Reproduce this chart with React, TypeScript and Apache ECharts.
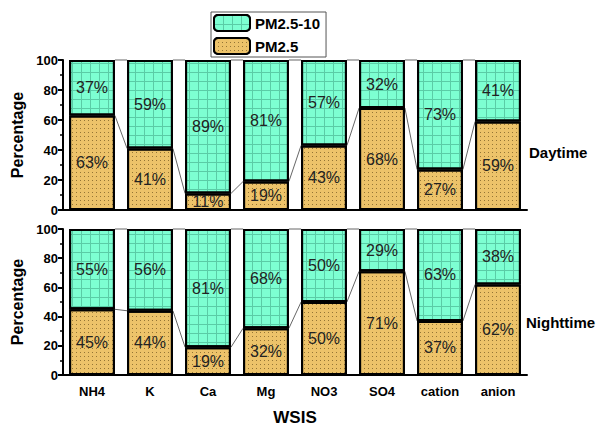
import React, { useEffect, useRef } from "react";
import * as echarts from "echarts";

const categories = ["NH4", "K", "Ca", "Mg", "NO3", "SO4", "cation", "anion"];
const dayFine = [63, 41, 11, 19, 43, 68, 27, 59];
const dayCoarse = [37, 59, 89, 81, 57, 32, 73, 41];
const nightFine = [45, 44, 19, 32, 50, 71, 37, 62];
const nightCoarse = [55, 56, 81, 68, 50, 29, 63, 38];
const yTicks = [0, 20, 40, 60, 80, 100];

const BAR_RATIO = 0.79;
const FINE_COLOR = "#EDC36A";
const COARSE_COLOR = "#7DFFD2";

const fineDecal = {
  symbol: "rect",
  symbolSize: 1,
  color: "rgba(60,40,0,0.5)",
  dashArrayX: [1, 3],
  dashArrayY: [1, 3],
  rotation: 0,
};
const coarseDecal = {
  symbol: "rect",
  symbolSize: 1,
  color: "rgba(0,70,50,0.28)",
  dashArrayX: [[9, 0], [1, 8]],
  dashArrayY: [1, 0, 8, 0],
  rotation: 0,
};

function pairs(vals: number[]) {
  const out: number[][] = [];
  for (let i = 0; i < vals.length - 1; i++) out.push([i, vals[i], vals[i + 1]]);
  return out;
}

function connector(xi: number, yi: number, data: number[][]) {
  return {
    type: "custom",
    xAxisIndex: xi,
    yAxisIndex: yi,
    z: 1,
    silent: true,
    data,
    renderItem: (params: any, api: any) => {
      const i = api.value(0);
      const p1 = api.coord([i, api.value(1)]);
      const p2 = api.coord([i + 1, api.value(2)]);
      const hw = (api.size([1, 0])[0] * BAR_RATIO) / 2;
      return {
        type: "line",
        shape: { x1: p1[0] + hw, y1: p1[1], x2: p2[0] - hw, y2: p2[1] },
        style: { stroke: "#666", lineWidth: 1 },
      };
    },
  };
}

export default function App() {
  const ref = useRef<HTMLDivElement>(null);
  useEffect(() => {
    const chart = echarts.init(ref.current!, null, { renderer: "svg" });
    const sum = (a: number[], b: number[]) => a.map((v, i) => v + b[i]);
    const grids = [
      { left: 63, width: 464, top: 60, height: 150 },
      { left: 63, width: 464, top: 229, height: 150 },
    ];
    const xAxes: any[] = [];
    const yAxes: any[] = [];
    grids.forEach((g, gi) => {
      xAxes.push({
        type: "category",
        gridIndex: gi,
        data: categories,
        boundaryGap: true,
        axisLine: { lineStyle: { color: "#000", width: 2 } },
        axisTick: { alignWithLabel: true, length: 6, lineStyle: { color: "#000", width: 2 } },
        axisLabel: {
          show: gi === 1,
          color: "#000",
          fontWeight: "bold",
          fontSize: 13,
          fontFamily: "Liberation Sans, Arial",
          margin: 10,
        },
        name: gi === 1 ? "WSIS" : "",
        nameLocation: "middle",
        nameGap: 34,
        nameTextStyle: { color: "#000", fontWeight: "bold", fontSize: 17, fontFamily: "Liberation Sans, Arial" },
      });
      xAxes.push({
        type: "category",
        gridIndex: gi,
        data: categories,
        position: "bottom",
        boundaryGap: true,
        axisLine: { show: false },
        axisTick: { length: 3, lineStyle: { color: "#000", width: 2 } },
        axisLabel: { show: false },
      });
      yAxes.push({
        type: "value",
        gridIndex: gi,
        min: 0,
        max: 100,
        interval: 20,
        splitLine: { show: false },
        axisLine: { show: true, lineStyle: { color: "#000", width: 2 } },
        axisTick: { show: true, length: 5, lineStyle: { color: "#000", width: 2 } },
        minorTick: { show: true, splitNumber: 2, length: 3, lineStyle: { color: "#000", width: 1.5 } },
        axisLabel: {
          color: "#000",
          fontWeight: "bold",
          fontSize: 13,
          fontFamily: "Liberation Sans, Arial",
          margin: 5,
          formatter: (v: number) => (yTicks.includes(v) ? String(v) : ""),
        },
        name: "Percentage",
        nameLocation: "middle",
        nameRotate: 90,
        nameGap: 35,
        nameTextStyle: { color: "#000", fontWeight: "bold", fontSize: 16, fontFamily: "Liberation Sans, Arial" },
      });
    });

    const label = {
      show: true,
      position: "inside",
      formatter: "{c}%",
      color: "#222",
      fontSize: 16,
      fontFamily: "Liberation Sans, Arial",
    };
    const bar = (name: string, gi: number, data: number[], color: string, decal: any, stack: string) => ({
      name,
      type: "bar",
      xAxisIndex: gi * 2,
      yAxisIndex: gi,
      stack,
      data,
      barWidth: BAR_RATIO * 100 + "%",
      z: 2,
      itemStyle: { color, borderColor: "#000", borderWidth: 2, decal },
      label,
    });

    chart.setOption({
      animation: false,
      aria: { enabled: true, decal: { show: true } },
      legend: {
        orient: "vertical",
        left: 211,
        top: 12,
        data: ["PM2.5-10", "PM2.5"],
        borderColor: "#555",
        borderWidth: 1,
        borderRadius: 0,
        padding: [2, 6, 2, 2],
        itemWidth: 36,
        itemHeight: 16,
        itemGap: 5,
        textStyle: { color: "#000", fontWeight: "bold", fontSize: 15, fontFamily: "Liberation Sans, Arial" },
      },
      grid: grids,
      xAxis: xAxes,
      yAxis: yAxes,
      series: [
        bar("PM2.5", 0, dayFine, FINE_COLOR, fineDecal, "day"),
        bar("PM2.5-10", 0, dayCoarse, COARSE_COLOR, coarseDecal, "day"),
        bar("PM2.5", 1, nightFine, FINE_COLOR, fineDecal, "night"),
        bar("PM2.5-10", 1, nightCoarse, COARSE_COLOR, coarseDecal, "night"),
        connector(0, 0, pairs(dayFine)),
        connector(0, 0, pairs(sum(dayFine, dayCoarse))),
        connector(2, 1, pairs(nightFine)),
        connector(2, 1, pairs(sum(nightFine, nightCoarse))),
      ],
      graphic: [
        {
          type: "text",
          left: 529,
          top: 145,
          style: { text: "Daytime", fill: "#000", font: "bold 15px 'Liberation Sans', Arial" },
        },
        {
          type: "text",
          left: 526,
          top: 315,
          style: { text: "Nighttime", fill: "#000", font: "bold 15px 'Liberation Sans', Arial" },
        },
      ],
    });
    return () => chart.dispose();
  }, []);
  return <div ref={ref} style={{ width: 601, height: 427, position: "absolute", left: 0, top: 0 }} />;
}
